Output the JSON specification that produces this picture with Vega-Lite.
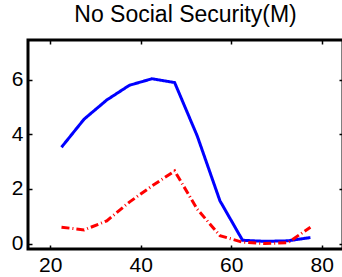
{
  "$schema": "https://vega.github.io/schema/vega-lite/v6.json",
  "autosize": {"type": "none"},
  "padding": {"left": 28, "top": 40, "right": 0, "bottom": 28},
  "width": 315,
  "height": 209,
  "background": "white",
  "title": {"text": "No Social Security(M)", "font": "Liberation Sans", "fontSize": 23, "fontWeight": "normal", "anchor": "middle", "offset": 12, "color": "black"},
  "config": {
    "view": {"stroke": "black", "strokeWidth": 3},
    "axis": {"grid": false, "domain": false, "ticks": true, "tickColor": "black", "tickWidth": 1.5, "tickSize": -4, "labelFont": "Liberation Sans", "labelFontSize": 21, "labelColor": "black"}
  },
  "data": {"values": [
    {"age": 22.5, "value": 3.53, "series": "blue"},
    {"age": 27.5, "value": 4.56, "series": "blue"},
    {"age": 32.5, "value": 5.26, "series": "blue"},
    {"age": 37.5, "value": 5.8, "series": "blue"},
    {"age": 42.5, "value": 6.04, "series": "blue"},
    {"age": 47.5, "value": 5.9, "series": "blue"},
    {"age": 52.5, "value": 3.94, "series": "blue"},
    {"age": 57.5, "value": 1.57, "series": "blue"},
    {"age": 62.5, "value": 0.12, "series": "blue"},
    {"age": 67.5, "value": 0.08, "series": "blue"},
    {"age": 72.5, "value": 0.1, "series": "blue"},
    {"age": 77.5, "value": 0.22, "series": "blue"},
    {"age": 22.5, "value": 0.6, "series": "red"},
    {"age": 27.5, "value": 0.5, "series": "red"},
    {"age": 32.5, "value": 0.83, "series": "red"},
    {"age": 37.5, "value": 1.52, "series": "red"},
    {"age": 42.5, "value": 2.11, "series": "red"},
    {"age": 47.5, "value": 2.66, "series": "red"},
    {"age": 52.5, "value": 1.26, "series": "red"},
    {"age": 57.5, "value": 0.29, "series": "red"},
    {"age": 62.5, "value": 0.05, "series": "red"},
    {"age": 67.5, "value": 0.0, "series": "red"},
    {"age": 72.5, "value": 0.03, "series": "red"},
    {"age": 77.5, "value": 0.6, "series": "red"}
  ]},
  "layer": [
    {
      "mark": {"type": "line", "strokeWidth": 3, "clip": true},
      "encoding": {
        "x": {"field": "age", "type": "quantitative", "scale": {"domain": [15.1, 84.7], "nice": false, "zero": false}, "axis": {"orient": "bottom", "values": [20, 40, 60, 80], "title": null, "labelPadding": 9}},
        "y": {"field": "value", "type": "quantitative", "scale": {"domain": [-0.2, 7.46], "nice": false, "zero": false}, "axis": {"orient": "left", "values": [0, 2, 4, 6], "title": null, "labelPadding": 9}},
        "color": {"field": "series", "type": "nominal", "scale": {"domain": ["blue", "red"], "range": ["#0000ff", "#ff0000"]}, "legend": null},
        "strokeDash": {"field": "series", "type": "nominal", "scale": {"domain": ["blue", "red"], "range": [[1, 0], [8, 3, 1, 3]]}, "legend": null}
      }
    },
    {
      "mark": {"type": "point", "opacity": 0},
      "encoding": {
        "x": {"field": "age", "type": "quantitative", "scale": {"domain": [15.1, 84.7], "nice": false, "zero": false}, "axis": {"orient": "top", "values": [20, 40, 60, 80], "title": null, "labels": false}},
        "y": {"field": "value", "type": "quantitative", "scale": {"domain": [-0.2, 7.46], "nice": false, "zero": false}, "axis": {"orient": "right", "values": [0, 2, 4, 6], "title": null, "labels": false}}
      }
    }
  ],
  "resolve": {"axis": {"x": "independent", "y": "independent"}}
}
